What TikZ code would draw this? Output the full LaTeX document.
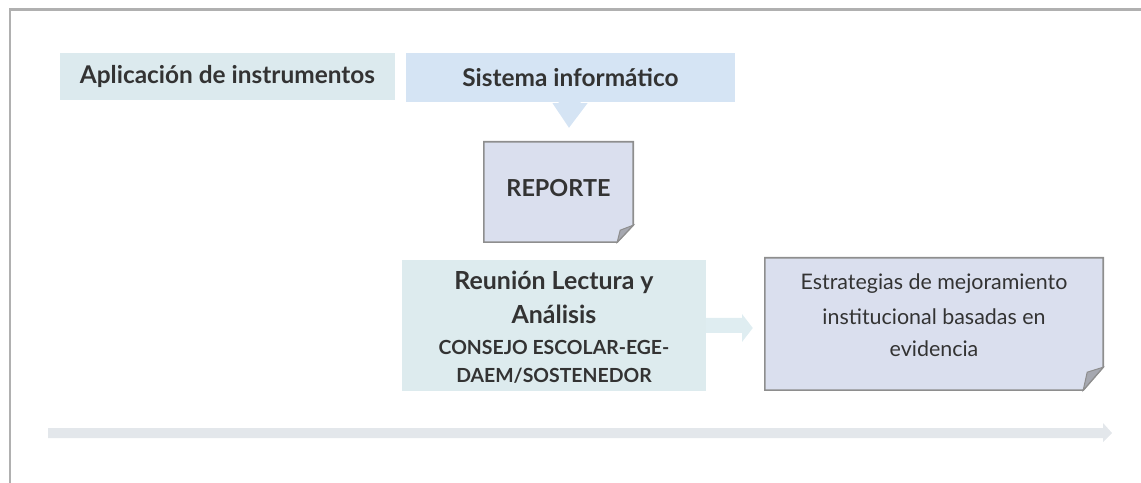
\documentclass[tikz,border=0pt]{standalone}
\usepackage{fontspec}
\setmainfont{Lato}
\usetikzlibrary{calc}
\definecolor{txt}{HTML}{333333}
\definecolor{framec}{HTML}{B0B0B0}
\definecolor{aplic}{HTML}{DCEAEE}
\definecolor{sist}{HTML}{D5E4F4}
\definecolor{docfill}{HTML}{DADFEE}
\definecolor{docline}{HTML}{8E8E8E}
\definecolor{foldc}{HTML}{A6A8B0}
\definecolor{reun}{HTML}{DDEBEE}
\definecolor{arrowr}{HTML}{DFEDF1}
\definecolor{barc}{HTML}{E3E7EB}
\tikzset{
  box/.style={rectangle, inner sep=0pt, text=txt, align=center},
  titlefont/.style={font=\bfseries\fontsize{24.5}{29}\selectfont},
  docbox/.style={box, fill=none},
  docedge/.style={draw=docline, line width=1.6bp, fill=docfill},
  foldstyle/.style={draw=docline, line width=1bp, fill=foldc},
}
\begin{document}
\begin{tikzpicture}[x=1bp,y=-1bp]
\useasboundingbox (0,0) rectangle (1141,483);
% frame
\draw[framec, line width=2.5bp] (10,483) -- (10,9.5) -- (1141,9.5);

% top boxes
\node[box, titlefont, fill=aplic, minimum width=335bp, minimum height=47bp] (aplic) at (227.5,76.5) {Aplicación de instrumentos};
\node[box, titlefont, fill=sist, minimum width=329bp, minimum height=49bp] (sist) at (570.5,77.5) {Sistema informático};

% REPORTE document
\node[docbox, minimum width=149bp, minimum height=100bp] (rep) at (558.5,192) {};
\draw[docedge] (rep.north west) -- (rep.north east) -- ($(rep.south east)+(0,-17)$) -- ($(rep.south east)+(-16,0)$) -- (rep.south west) -- cycle;
\fill[foldstyle] ($(rep.south east)+(0,-17)$) -- ($(rep.south east)+(-13,-12)$) -- ($(rep.south east)+(-16,0)$) -- cycle;
\node[box, font=\bfseries\fontsize{23.5}{28}\selectfont] (reptxt) at ($(rep)+(0,-4)$) {REPORTE};

% down block arrow
\fill[sist] ($(sist.south)+(-12,-1)$) -- ($(sist.south)+(10,-1)$) -- ($(sist.south)+(10,1)$) -- ($(sist.south)+(17,1)$) -- ($(rep.north)+(10.5,-14)$) -- ($(sist.south)+(-18,1)$) -- ($(sist.south)+(-12,1)$) -- cycle;

% Reunion box
\node[box, fill=reun, minimum width=304bp, minimum height=131bp] (reun) at (554,325.5) {};
\node[box, anchor=north, font=\bfseries\fontsize{25}{34}\selectfont] (reuntxt) at ($(reun.north)+(0,11)$) {%
  Reunión Lectura y\\Análisis\\[-3bp]
  \fontsize{19.5}{29}\selectfont CONSEJO ESCOLAR-EGE-\\[-6bp]
  \fontsize{19.5}{27}\selectfont DAEM/SOSTENEDOR};

% Estrategias document
\node[docbox, minimum width=338bp, minimum height=132bp] (estr) at (934,324) {};
\draw[docedge] (estr.north west) -- (estr.north east) -- ($(estr.south east)+(0,-23)$) -- ($(estr.south east)+(-20,0)$) -- (estr.south west) -- cycle;
\fill[foldstyle] ($(estr.south east)+(0,-23)$) -- ($(estr.south east)+(-16,-18)$) -- ($(estr.south east)+(-20,0)$) -- cycle;
\node[box, font=\fontsize{21.5}{33}\selectfont, anchor=north] (estrtxt) at ($(estr.north)+(0,16)$) {Estrategias de mejoramiento\\[1.5bp]institucional basadas en\\[-1bp]evidencia};

% right block arrow
\fill[arrowr] (reun.east |- 0,318) -- (742,318) -- (742,314) -- ($(estr.west)+(-12,4)$) -- (742,342) -- (742,333) -- (reun.east |- 0,333) -- cycle;

% bottom timeline arrow
\coordinate (tl0) at (48,433);
\coordinate (tl1) at (1112,433);
\fill[barc] ($(tl0)+(0,-5)$) -- ($(tl1)+(-9,-5)$) -- ($(tl1)+(-9,-10)$) -- (tl1) -- ($(tl1)+(-9,9)$) -- ($(tl1)+(-9,5)$) -- ($(tl0)+(0,5)$) -- cycle;
\end{tikzpicture}
\end{document}
